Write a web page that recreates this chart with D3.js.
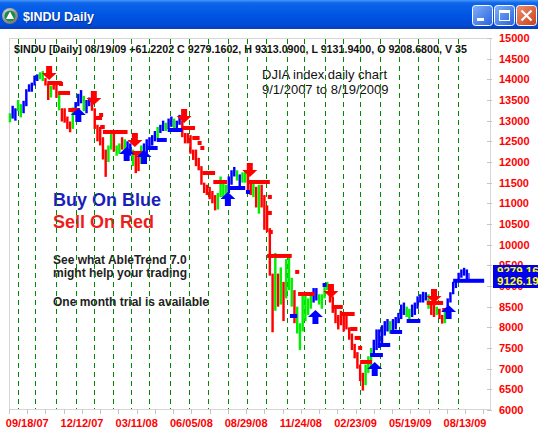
<!DOCTYPE html>
<html><head><meta charset="utf-8">
<script src="https://cdn.jsdelivr.net/npm/d3@7"></script>
<style>
html,body{margin:0;padding:0;background:#fff;overflow:hidden}
svg{display:block;font-family:"Liberation Sans",Arial,sans-serif}
</style></head><body>
<svg id="chart" width="538" height="434"></svg>
<script>
// Bars are grouped three trading days at a time; day index 0 = 08/20/07
const groupSize = 3;
const highs = [13180,13360,13300,13500,13400,13480,13760,13880,13920,14090,14120,14170,14200,14030,13900,13850,13920,13950,13700,13300,
  13300,13100,12980,13320,13450,13650,13740,13600,13500,13560,13480,13300,12900,12850,12600,12300,12400,12700,12750,12400,
  12450,12600,12550,12500,12450,12300,12200,12180,12400,12450,12550,12600,12650,12750,12850,12900,13000,12950,13050,13100,
  13050,13000,13140,13000,12700,12700,12650,12300,12300,12100,11900,11500,11450,11400,11300,11200,11250,11650,11500,11450,
  11650,11800,11880,11800,11700,11750,11800,11800,11500,11500,11400,11450,11450,11200,10950,10400,9300,9800,9300,9450,
  9100,9650,9700,9200,8900,8500,8100,8850,8850,8700,8800,8950,8950,8800,8800,9050,9100,8950,8750,8500,
  8300,8400,8300,8300,8000,7850,7600,7400,7100,6900,7100,7300,7500,7700,7950,7950,8050,8150,8200,8150,
  8200,8250,8350,8550,8600,8500,8450,8550,8600,8750,8800,8860,8850,8800,8600,8550,8500,8450,8300,8400,
  8700,8850,9100,9150,9320,9400,9440,9400,9313.09];
const lows = [12960,13050,13000,13230,13080,13180,13350,13700,13700,13850,13960,14000,13960,13850,13500,13560,13750,13550,13250,12980,
  12950,12800,12720,12800,13200,13350,13420,13230,13180,13350,13240,12800,12500,12400,12060,11640,12000,12300,12250,12150,
  12200,12300,12250,12200,12150,11900,11730,11780,11950,12200,12200,12300,12400,12500,12550,12700,12750,12750,12800,12850,
  12800,12800,12900,12600,12450,12450,12200,12050,11900,11800,11450,11250,11200,11100,11000,10830,10850,11150,11150,11100,
  11250,11450,11650,11550,11400,11500,11500,11300,11200,11150,10900,10750,10900,10360,10300,9250,7880,8400,8500,8550,
  8150,8700,8900,8500,8100,7850,7450,7900,8150,8300,8450,8600,8650,8550,8450,8700,8900,8600,8350,8100,
  7950,8050,7900,7950,7700,7450,7250,7000,6700,6470,6600,6900,7000,7300,7450,7500,7550,7800,7900,7850,
  7850,7950,8100,8200,8300,8250,8150,8250,8300,8450,8600,8600,8650,8450,8300,8250,8300,8200,8090,8100,
  8350,8600,8800,8950,9100,9200,9250,9120,9131.94];
// G = neutral, B = up trend, R = down trend
const trend = "GBBGGBBBBBBGGRRGRRGR" + "RRRGBBBGBBRRRRRRGGRG" + "GRGBBGRRGBBBBBGBBGBB" + "GBBRRRRRRRRRRRRRGGGG" +
  "BBBGBGGRRGRGRRRRRGRG" + "RGGGRGGGGGGBBGGGGRRR" + "RRRRRRRRRRGGGBBBBBBG" + "BBBBBGGBBBBBBGRRGRRG" + "BBBBBBBBB";

// Trailing stop segments: [first day, last day, level]
const sellStops = [[42,58,13911],[54,67,13670],[65,78,13258],[94,102,13065],[100,105,12847],[103,130,12726],[135,149,12218],
  [190,204,12823],[201,209,12581],[212,226,11734],[224,239,11516],[261,286,11516],[283,310,9727],[317,335,8807],
  [354,366,8493],[365,379,8323],[374,382,7960],[379,385,7743],[385,398,7162],[458,476,8590],[475,484,8420]];
const buyStops = [[87,92,13500],[152,163,12339],[162,173,12533],[174,190,12774],[240,259,11371],[308,316,8275],
  [396,410,7330],[405,418,7573],[418,431,7888],[436,451,8154],[487,521,9126.19]];
const sellDots = [[57,13887],[101,13137],[205,12581],[209,12460],[212,12339],[286,11154],[286,10767],[287,10307],[316,9340],[385,7501]];
const buyDots = [[262,11275],[346,9025]];
// Signal arrows: [day, price at the arrow tip]
const sellSignals = [[44,13984],[93,13380],[138,12363],[192,12944],[264,11637],[353,8710],[466,8590]];
const buySignals = [[76,13307],[129,12363],[148,12290],[240,11275],[336,8420],[401,7162],[482,8541]];

const monthStarts = [10,29,52,73,93,114,134,154,176,197,218,240,261,282,305,324,346,366,385,407,428,448,470,492];
const dateLabels = ["09/18/07","12/12/07","03/11/08","06/05/08","08/29/08","11/24/08","02/23/09","05/19/09","08/13/09"];
const dateLabelDays = [20,80,140,200,260,320,380,440,500];
const priceTicks = [6000,6500,7000,7500,8000,8500,9000,9500,10000,10500,11000,11500,12000,12500,13000,13500,14000,14500,15000];
const lastClose = 9279.1602, currentStop = 9126.193;
const headerText = "$INDU [Daily] 08/19/09  +61.2202 C 9279.1602, H 9313.0900, L 9131.9400, O 9208.6800, V 35";

const W = 538, H = 434;
const plot = {left: 9, right: 490, top: 38, bottom: 410};
const x = d3.scaleLinear().domain([0, 527.4]).range([plot.left, plot.right]);
const y = d3.scaleLinear().domain([6000, 15000]).range([plot.bottom, plot.top]);
const colorOf = {G: "#00ee00", B: "#0000ff", R: "#ff0000"};

const svg = d3.select("#chart");
const defs = svg.append("defs");

// ---- window title bar ----
const tg = defs.append("linearGradient").attr("id", "titleGrad").attr("x1", 0).attr("y1", 0).attr("x2", 0).attr("y2", 1);
[[0, "#4a97f8"], [0.1, "#0d66ea"], [0.5, "#0055e3"], [0.85, "#004ad8"], [1, "#0a3db5"]]
  .forEach(([o, c]) => tg.append("stop").attr("offset", o).attr("stop-color", c));
svg.append("rect").attr("width", W).attr("height", 29).attr("fill", "url(#titleGrad)");

const ig = defs.append("radialGradient").attr("id", "iconGrad").attr("cx", 0.4).attr("cy", 0.35).attr("r", 0.7);
ig.append("stop").attr("offset", 0).attr("stop-color", "#f0f0f0");
ig.append("stop").attr("offset", 1).attr("stop-color", "#6b6b6b");
svg.append("circle").attr("cx", 10).attr("cy", 16).attr("r", 8).attr("fill", "url(#iconGrad)");
svg.append("circle").attr("cx", 10).attr("cy", 16).attr("r", 5.6).attr("fill", "#1f8a4c");
svg.append("path").attr("d", "M10,11.5 L14,19 L6,19 Z").attr("fill", "#fff");
svg.append("text").attr("x", 23).attr("y", 21).attr("fill", "#0a1c6a").attr("opacity", 0.6)
  .attr("font-size", 12.5).attr("font-weight", "bold").text("$INDU Daily").attr("transform", "translate(1,1)");
svg.append("text").attr("x", 23).attr("y", 21).attr("fill", "#fff")
  .attr("font-size", 12.5).attr("font-weight", "bold").text("$INDU Daily");

const bg = defs.append("linearGradient").attr("id", "btnGrad").attr("x1", 0).attr("y1", 0).attr("x2", 1).attr("y2", 1);
bg.append("stop").attr("offset", 0).attr("stop-color", "#7fb0fa");
bg.append("stop").attr("offset", 1).attr("stop-color", "#2a62dc");
const cg = defs.append("linearGradient").attr("id", "closeGrad").attr("x1", 0).attr("y1", 0).attr("x2", 1).attr("y2", 1);
cg.append("stop").attr("offset", 0).attr("stop-color", "#f09070");
cg.append("stop").attr("offset", 1).attr("stop-color", "#c8401a");
[[472, "url(#btnGrad)"], [494, "url(#btnGrad)"], [516, "url(#closeGrad)"]].forEach(([bx, f]) => {
  svg.append("rect").attr("x", bx + 0.5).attr("y", 5.5).attr("width", 20).attr("height", 20).attr("rx", 3)
    .attr("fill", f).attr("stroke", "#fff").attr("stroke-width", 1);
});
svg.append("rect").attr("x", 477).attr("y", 18).attr("width", 7).attr("height", 3).attr("fill", "#fff");
svg.append("rect").attr("x", 499.5).attr("y", 10.5).attr("width", 10).attr("height", 10).attr("fill", "none").attr("stroke", "#fff").attr("stroke-width", 1);
svg.append("rect").attr("x", 499).attr("y", 10).attr("width", 11).attr("height", 3).attr("fill", "#fff");
svg.append("path").attr("d", "M521.5,10.5 L531.5,20.5 M531.5,10.5 L521.5,20.5").attr("stroke", "#fff").attr("stroke-width", 2.2);

// ---- plot frame ----
svg.append("rect").attr("x", plot.left + 0.5).attr("y", plot.top + 0.5)
  .attr("width", plot.right - plot.left).attr("height", 371).attr("fill", "#fff").attr("stroke", "#d6d6d6");

// header line with the last bar's quote
svg.append("text").attr("x", 14).attr("y", 53).attr("font-size", 10.7).attr("font-weight", "bold")
  .attr("fill", "#111").text(headerText);

// notes
svg.append("text").attr("x", 262).attr("y", 79).attr("font-size", 13).attr("fill", "#111").text("DJIA index daily chart");
svg.append("text").attr("x", 262).attr("y", 94).attr("font-size", 13).attr("fill", "#111").text("9/1/2007 to 8/19/2009");
svg.append("text").attr("x", 53).attr("y", 206).attr("font-size", 18).attr("font-weight", "bold").attr("fill", "#1c1cc0").text("Buy On Blue");
svg.append("text").attr("x", 53).attr("y", 228).attr("font-size", 18).attr("font-weight", "bold").attr("fill", "#f01c1c").text("Sell On Red");
[["See what AbleTrend 7.0", 264], ["might help your trading", 277], ["One month trial is available", 306]].forEach(([t, yy]) => {
  svg.append("text").attr("x", 53).attr("y", yy).attr("font-size", 12).attr("font-weight", "bold").attr("fill", "#1e1e1e").text(t);
});

// month separators
svg.append("g").selectAll("line").data(monthStarts).join("line")
  .attr("x1", d => Math.round(x(d)) + 0.5).attr("x2", d => Math.round(x(d)) + 0.5)
  .attr("y1", plot.top + 1).attr("y2", 409)
  .attr("stroke", "#008a00").attr("stroke-width", 1).attr("stroke-dasharray", "5,4");

// axis ticks
svg.append("g").selectAll("line").data(d3.range(0, 528, 20)).join("line")
  .attr("x1", d => Math.round(x(d)) + 0.5).attr("x2", d => Math.round(x(d)) + 0.5)
  .attr("y1", 409).attr("y2", 414).attr("stroke", "#c4c4c4");
svg.append("g").selectAll("line").data(priceTicks).join("line")
  .attr("x1", 487).attr("x2", 492).attr("y1", d => Math.round(y(d)) + 0.5).attr("y2", d => Math.round(y(d)) + 0.5)
  .attr("stroke", "#c4c4c4");

// price bars
svg.append("g").selectAll("rect").data(highs).join("rect")
  .attr("x", (d, i) => x(i * groupSize) - 0.3)
  .attr("width", (d, i) => Math.max(1.2, x(Math.min(i * groupSize + 2, 504)) - x(i * groupSize) + 0.6))
  .attr("y", d => y(d))
  .attr("height", (d, i) => Math.max(1, y(lows[i]) - y(d)))
  .attr("fill", (d, i) => colorOf[trend[i]]);

// trailing stops
function drawStops(data, color) {
  svg.append("g").selectAll("rect").data(data).join("rect")
    .attr("x", d => x(d[0])).attr("width", d => x(d[1]) - x(d[0]))
    .attr("y", d => y(d[2]) - 2).attr("height", 4).attr("fill", color);
}
drawStops(sellStops, "#ff0000");
drawStops(buyStops, "#0000ff");
function drawDots(data, color) {
  svg.append("g").selectAll("rect").data(data).join("rect")
    .attr("x", d => x(d[0]) - 2).attr("y", d => y(d[1]) - 2).attr("width", 4).attr("height", 4).attr("fill", color);
}
drawDots(sellDots, "#ff0000");
drawDots(buyDots, "#0000ff");

// signal arrows
svg.append("g").selectAll("path").data(sellSignals).join("path")
  .attr("d", d => {
    const cx = x(d[0]), ty = y(d[1]);
    return `M${cx - 3},${ty - 14} H${cx + 3} V${ty - 7} H${cx + 7.5} L${cx},${ty} L${cx - 7.5},${ty - 7} H${cx - 3} Z`;
  }).attr("fill", "#ff0000");
svg.append("g").selectAll("path").data(buySignals).join("path")
  .attr("d", d => {
    const cx = x(d[0]), ty = y(d[1]);
    return `M${cx - 3},${ty + 14} H${cx + 3} V${ty + 7} H${cx + 7.5} L${cx},${ty} L${cx - 7.5},${ty + 7} H${cx - 3} Z`;
  }).attr("fill", "#0000ff");

// axis labels
svg.append("g").selectAll("text").data(priceTicks).join("text")
  .attr("x", 499).attr("y", d => y(d) + 4).attr("font-size", 11).attr("font-weight", "bold")
  .attr("fill", "#ff0000").text(d => d);
svg.append("g").selectAll("text").data(dateLabels).join("text")
  .attr("x", (d, i) => x(dateLabelDays[i])).attr("y", 427).attr("text-anchor", "middle")
  .attr("font-size", 11).attr("font-weight", "bold").attr("fill", "#ff0000").text(d => d);

// last close tag, partly covered by the current stop tag
const stopTop = Math.round(y(currentStop)) - 9;
[[lastClose, stopTop - 7, 16, 9.5], [currentStop, stopTop, 16, 12.5]].forEach(([v, top, h, base]) => {
  svg.append("rect").attr("x", 493).attr("y", top).attr("width", 45).attr("height", h).attr("fill", "#0000ee");
  svg.append("text").attr("x", 497).attr("y", top + base).attr("font-size", 11.5).attr("font-weight", "bold")
    .attr("fill", "#ffff00").text(v.toFixed(3));
});
</script>
</body></html>
